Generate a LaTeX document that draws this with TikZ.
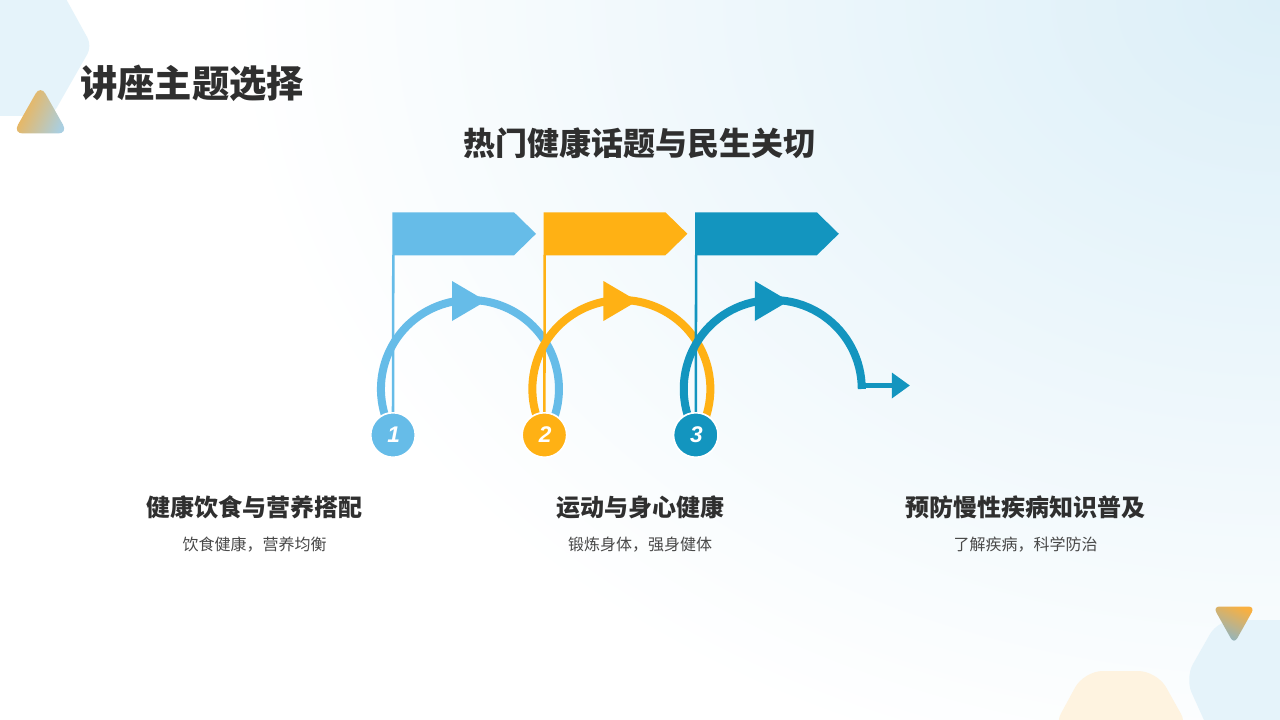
\documentclass[tikz,border=0pt]{standalone}
\usepackage{fontspec}
\setmainfont{Liberation Sans}
\newfontfamily\cjk{Noto Sans CJK SC}
\usetikzlibrary{calc,shadings}
\definecolor{cblue}{HTML}{66BCE8}
\definecolor{cgold}{HTML}{FFB114}
\definecolor{cteal}{HTML}{1395BF}
\definecolor{ink}{HTML}{2F2F2F}
\definecolor{inksub}{HTML}{484848}
\definecolor{hexblue}{HTML}{E5F3FA}
\definecolor{hexpeach}{HTML}{FEF3E0}
\definecolor{bgtr}{HTML}{DCEFF8}
\definecolor{triorange}{HTML}{F9B040}
\definecolor{tribluegray}{HTML}{A9CFE2}
\definecolor{triblue}{HTML}{85B5CE}
\tikzset{
  x=0.75pt,y=-0.75pt,
  titletext/.style={font=\cjk\bfseries\fontsize{28pt}{32pt}\selectfont,text=ink,inner sep=0pt},
  subtitletext/.style={font=\cjk\bfseries\fontsize{24pt}{28pt}\selectfont,text=ink,inner sep=0pt},
  headtext/.style={font=\cjk\bfseries\fontsize{18pt}{22pt}\selectfont,text=ink,inner sep=0pt},
  bodytext/.style={font=\cjk\fontsize{12pt}{15pt}\selectfont,text=inksub,inner sep=0pt},
  numdot/.style={circle,minimum size=33.5pt,inner sep=0pt,draw=white,line width=1.3pt,text=white,font=\bfseries\itshape\fontsize{17pt}{19pt}\selectfont},
  arcline/.style={line width=6pt,line cap=butt},
  pole/.style={line width=1.9pt},
}
\begin{document}
\begin{tikzpicture}
\useasboundingbox (0,0) rectangle (1280,720);
\fill[white] (0,0) rectangle (1280,720);
\begin{scope}
  \clip (0,0) rectangle (1280,720);
  \shade[inner color=bgtr,outer color=white] (1280,0) ellipse[x radius=1050,y radius=800];
\end{scope}
% background shapes
\fill[hexblue,rounded corners=7pt] (-20,-20) -- (55.6,-20) -- (92,46) -- (52,116) -- (-20,116) -- cycle;
\fill[hexblue,rounded corners=12pt] (1218,620) -- (1300,620) -- (1300,760) -- (1222,760) -- (1185,678) -- cycle;
\fill[hexpeach,rounded corners=14pt] (1084,671) -- (1157,671) -- (1190,730) -- (1052,730) -- cycle;
\shade[left color=triorange,right color=tribluegray,shading angle=65,rounded corners=7.5pt] (40.5,85) -- (68,133.5) -- (13,133.5) -- cycle;
\shade[top color=triorange,bottom color=triblue,shading angle=-25,rounded corners=5pt] (1213,606.5) -- (1255,606.5) -- (1234,644) -- cycle;
% titles
\node[titletext,anchor=west] (title) at (80,83) {讲座主题选择};
\node[subtitletext] (subtitle) at (639,143) {热门健康话题与民生关切};
% flow
\foreach \n/\dx/\col in {1/0/cblue,2/151.4/cgold,3/302.8/cteal}{
  \begin{scope}[xshift={\dx*0.75pt}]
    \ifnum\n=3
      \draw[arcline,\col] (389.3,426.6) arc[start angle=155,end angle=360,radius=89];
      \draw[line width=4pt,\col] (555,385.3) -- (590,385.3);
      \fill[\col] (589,372.5) -- (607,385.5) -- (589,398.5) -- cycle;
    \else
      \draw[arcline,\col] (389.3,426.6) arc[start angle=155,end angle=385,radius=89];
    \fi
    \fill[\col] (452,281) -- (486,301) -- (452,321) -- cycle;
    \fill[\col] (392.3,212.3) -- (514,212.3) -- (536,233.8) -- (514,255.3) -- (392.3,255.3) -- cycle;
    \coordinate (poletop\n) at (393.3,255);
    \node[numdot,fill=\col] (num\n) at (393,435) {\raisebox{0.8pt}{\hspace{1pt}\n}};
    \draw[pole,\col] (poletop\n) -- (num\n.north);
  \end{scope}
}
% labels
\node[headtext] (h1) at (254.5,507) {健康饮食与营养搭配};
\node[bodytext] (b1) at (254.5,544.5) {饮食健康，营养均衡};
\node[headtext] (h2) at (640,507) {运动与身心健康};
\node[bodytext] (b2) at (640,544.5) {锻炼身体，强身健体};
\node[headtext] (h3) at (1025.5,507) {预防慢性疾病知识普及};
\node[bodytext] (b3) at (1025.5,544.5) {了解疾病，科学防治};
\end{tikzpicture}
\end{document}
